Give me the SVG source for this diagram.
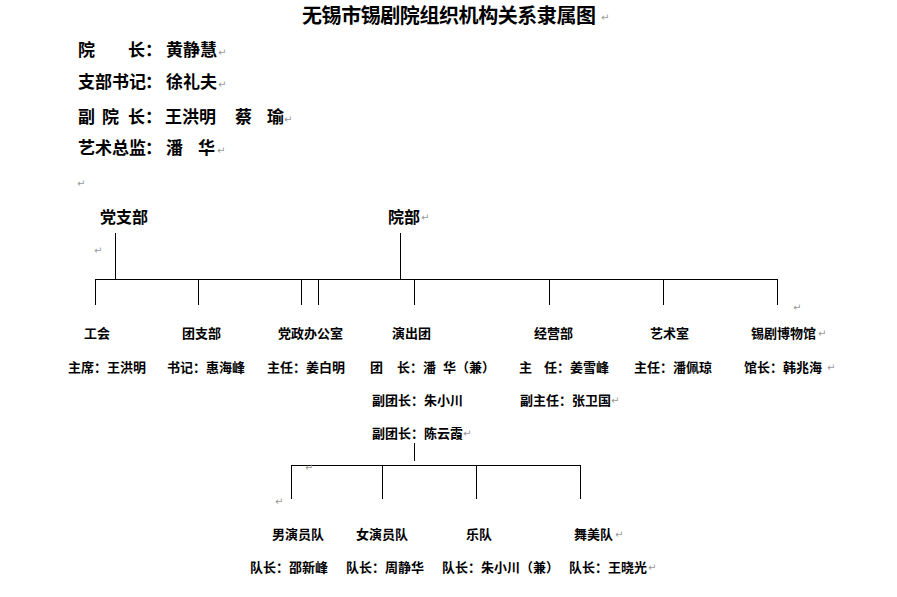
<svg xmlns="http://www.w3.org/2000/svg" width="897" height="597" viewBox="0 0 897 597">
<style>
text{font-family:"Noto Sans CJK SC","Noto Sans",sans-serif;fill:#000;font-weight:bold}
.t{font-size:20px}
.hd{font-size:17px}
.h{font-size:16px}
.n{font-size:13px}
.pm{font-family:"DejaVu Sans",sans-serif;font-size:10px;fill:#999;font-weight:normal}
.ln{stroke:#000;stroke-width:1;fill:none}
</style>
<rect width="897" height="597" fill="#fff"/>
<g id="title">
<text class="t" x="302" y="23" textLength="294" lengthAdjust="spacing">无锡市锡剧院组织机构关系隶属图</text>
<text class="pm" x="601" y="21">↵</text>
</g>
<g id="header">
<text class="hd" y="56"><tspan x="78">院</tspan><tspan x="128">长</tspan><tspan x="145">：</tspan><tspan x="166">黄静慧</tspan></text>
<text class="pm" x="218" y="56">↵</text>
<text class="hd" y="88"><tspan x="78">支部书记</tspan><tspan x="145">：</tspan><tspan x="166">徐礼夫</tspan></text>
<text class="pm" x="218" y="88">↵</text>
<text class="hd" y="123"><tspan x="78">副</tspan><tspan x="102">院</tspan><tspan x="128">长</tspan><tspan x="145">：</tspan><tspan x="165">王洪明</tspan><tspan x="235">蔡</tspan><tspan x="267">瑜</tspan></text>
<text class="pm" x="284" y="123">↵</text>
<text class="hd" y="154"><tspan x="78">艺术总监</tspan><tspan x="145">：</tspan><tspan x="166">潘</tspan><tspan x="198">华</tspan></text>
<text class="pm" x="217" y="154">↵</text>
<text class="pm" x="77" y="187">↵</text>
</g>
<g id="connectors">
<path class="ln" d="M115.5 233V279.5M400.5 233V279.5M95 279.5H777.5"/>
<path class="ln" d="M95.5 279V305M198.5 279V305M301.5 279V305M318.5 279V305M414.5 279V305M549.5 279V305M663.5 279V305M777.5 279V305"/>
<path class="ln" d="M414.5 443V461M291 465.5H580.5M291.5 465V499M382.5 465V499M476.5 465V499M580.5 465V499"/>
</g>
<g id="dangzhibu">
<text class="h" x="100" y="223">党支部</text>
<text class="pm" x="94" y="254">↵</text>
</g>
<g id="yuanbu">
<text class="h" x="388" y="223">院部</text>
<text class="pm" x="421" y="221">↵</text>
</g>
<text class="pm" x="793" y="311">↵</text>
<g id="gonghui">
<text class="n" x="84" y="338">工会</text>
<text class="n" x="68" y="372">主席：王洪明</text>
</g>
<g id="tuanzhibu">
<text class="n" x="182" y="338">团支部</text>
<text class="n" x="167" y="372">书记：惠海峰</text>
</g>
<g id="dangzhengban">
<text class="n" x="278" y="338">党政办公室</text>
<text class="n" x="267" y="372">主任：姜白明</text>
</g>
<g id="yanchutuan">
<text class="n" x="392" y="338">演出团</text>
<text class="n" y="372"><tspan x="370">团</tspan><tspan x="397">长：潘</tspan><tspan x="443">华（兼）</tspan></text>
<text class="n" x="372" y="405">副团长：朱小川</text>
<text class="n" x="372" y="438">副团长：陈云霞</text>
<text class="pm" x="463" y="437">↵</text>
</g>
<g id="jingyingbu">
<text class="n" x="534" y="338">经营部</text>
<text class="n" y="372"><tspan x="519">主</tspan><tspan x="544">任：姜雪峰</tspan></text>
<text class="n" x="520" y="405">副主任：张卫国</text>
<text class="pm" x="611" y="404">↵</text>
</g>
<g id="yishushi">
<text class="n" x="650" y="338">艺术室</text>
<text class="n" x="634" y="372">主任：潘佩琼</text>
</g>
<g id="bowuguan">
<text class="n" x="751" y="338">锡剧博物馆</text>
<text class="pm" x="818" y="337">↵</text>
<text class="n" x="744" y="372">馆长：韩兆海</text>
<text class="pm" x="827" y="371">↵</text>
</g>
<text class="pm" x="305" y="471">↵</text>
<text class="pm" x="275" y="505">↵</text>
<g id="nanyanyuan">
<text class="n" x="272" y="539">男演员队</text>
<text class="n" x="250" y="572">队长：邵新峰</text>
</g>
<g id="nvyanyuan">
<text class="n" x="356" y="539">女演员队</text>
<text class="n" x="346" y="572">队长：周静华</text>
</g>
<g id="yuedui">
<text class="n" x="466" y="539">乐队</text>
<text class="n" x="442" y="572">队长：朱小川（兼）</text>
</g>
<g id="wumeidui">
<text class="n" x="574" y="539">舞美队</text>
<text class="pm" x="615" y="538">↵</text>
<text class="n" x="569" y="572">队长：王晓光</text>
<text class="pm" x="648" y="571">↵</text>
</g>
</svg>
